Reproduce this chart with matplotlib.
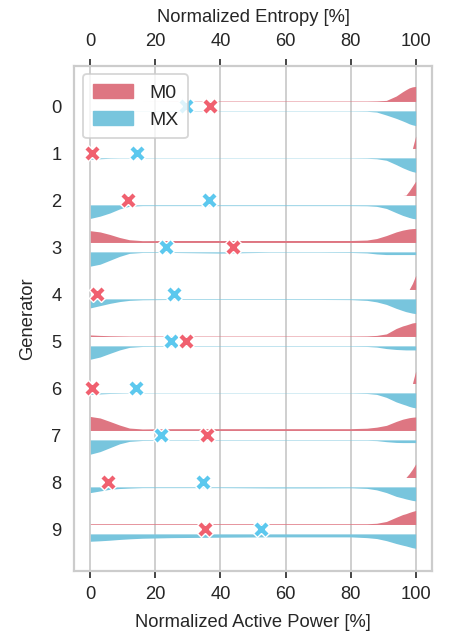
import numpy as np
import matplotlib.pyplot as plt
from matplotlib.patches import Patch

# ---- data ----
generators = list(range(10))
# x positions (normalized active power, %) where the half-violin widths were read
power_grid = [0, 3, 6, 9, 12, 16, 25, 40, 55, 70, 80, 85, 88, 91, 94, 96, 97, 98, 99, 100]

# relative density (1 = widest) for M0 (upper half) per generator
m0_density = [
    [0, 0, 0, 0, 0, 0, 0.01, 0.03, 0.03, 0.03, 0.03, 0.03, 0.04, 0.07, 0.36, 0.65, 0.78, 0.9, 0.97, 1.0],
    [0, 0, 0, 0, 0, 0, 0, 0, 0, 0, 0, 0, 0, 0, 0, 0, 0, 0, 0, 0.82],
    [0, 0, 0, 0, 0, 0, 0, 0, 0, 0, 0, 0, 0, 0, 0, 0, 0.02, 0.3, 0.62, 0.95],
    [0.78, 0.7, 0.53, 0.33, 0.18, 0.12, 0.13, 0.13, 0.13, 0.13, 0.13, 0.16, 0.26, 0.46, 0.7, 0.82, 0.86, 0.9, 0.92, 0.93],
    [0, 0, 0, 0, 0, 0, 0, 0, 0, 0, 0, 0, 0, 0, 0, 0, 0, 0, 0.4, 0.93],
    [0.1, 0.07, 0.05, 0.04, 0.03, 0.03, 0.03, 0.03, 0.03, 0.03, 0.03, 0.04, 0.07, 0.17, 0.53, 0.7, 0.76, 0.83, 0.9, 0.93],
    [0, 0, 0, 0, 0, 0, 0, 0, 0, 0, 0, 0, 0, 0, 0, 0, 0, 0, 0, 0.82],
    [0.93, 0.83, 0.6, 0.36, 0.16, 0.1, 0.12, 0.12, 0.12, 0.12, 0.12, 0.15, 0.22, 0.34, 0.6, 0.75, 0.8, 0.85, 0.88, 0.9],
    [0, 0, 0, 0, 0, 0, 0, 0, 0, 0, 0, 0, 0, 0, 0, 0, 0, 0.25, 0.55, 0.9],
    [0.05, 0.05, 0.05, 0.05, 0.05, 0.05, 0.05, 0.05, 0.05, 0.05, 0.05, 0.05, 0.08, 0.2, 0.48, 0.66, 0.72, 0.8, 0.87, 0.93],
]
# relative density for MX (lower half) per generator
mx_density = [
    [0.02, 0.02, 0.02, 0.02, 0.02, 0.02, 0.02, 0.02, 0.02, 0.02, 0.02, 0.03, 0.08, 0.28, 0.5, 0.67, 0.76, 0.86, 0.93, 0.98],
    [0.1, 0.06, 0.03, 0.02, 0.02, 0.02, 0.02, 0.02, 0.02, 0.02, 0.02, 0.03, 0.06, 0.16, 0.45, 0.66, 0.75, 0.84, 0.91, 0.96],
    [0.9, 0.75, 0.54, 0.27, 0.09, 0.05, 0.05, 0.05, 0.05, 0.05, 0.05, 0.06, 0.1, 0.24, 0.52, 0.7, 0.77, 0.84, 0.9, 0.93],
    [0.95, 0.82, 0.56, 0.3, 0.1, 0.04, 0.04, 0.08, 0.03, 0.03, 0.04, 0.07, 0.14, 0.18, 0.18, 0.18, 0.18, 0.18, 0.18, 0.18],
    [0.6, 0.45, 0.3, 0.18, 0.1, 0.06, 0.04, 0.04, 0.04, 0.04, 0.05, 0.1, 0.2, 0.37, 0.63, 0.78, 0.85, 0.9, 0.95, 0.98],
    [0.89, 0.74, 0.5, 0.27, 0.1, 0.04, 0.03, 0.03, 0.03, 0.03, 0.03, 0.04, 0.08, 0.18, 0.24, 0.26, 0.27, 0.27, 0.27, 0.27],
    [0.1, 0.07, 0.04, 0.03, 0.02, 0.02, 0.02, 0.02, 0.02, 0.02, 0.02, 0.04, 0.1, 0.3, 0.6, 0.75, 0.82, 0.9, 0.96, 1.0],
    [0.95, 0.78, 0.52, 0.26, 0.1, 0.04, 0.03, 0.03, 0.03, 0.03, 0.03, 0.03, 0.05, 0.12, 0.17, 0.18, 0.18, 0.18, 0.18, 0.18],
    [0.38, 0.27, 0.16, 0.11, 0.08, 0.05, 0.05, 0.05, 0.07, 0.07, 0.06, 0.1, 0.2, 0.38, 0.63, 0.74, 0.8, 0.85, 0.9, 0.93],
    [0.49, 0.46, 0.42, 0.37, 0.33, 0.29, 0.25, 0.22, 0.2, 0.2, 0.2, 0.25, 0.31, 0.45, 0.64, 0.75, 0.8, 0.86, 0.92, 0.96],
]

# normalized entropy per generator (crosses)
m0_entropy = [36.7, 0.6, 11.5, 43.8, 2.1, 29.5, 0.4, 36.0, 5.3, 35.1]
mx_entropy = [29.5, 14.4, 36.4, 23.4, 25.7, 24.7, 14.0, 21.8, 34.6, 52.4]

# ---- style ----
m0_fill = '#de7682'
mx_fill = '#78c5dd'
m0_mark = '#f0606f'
mx_mark = '#5cc8ee'
light = '#cccccc'
dark = '#262626'
half_gap = 0.1
max_half = 0.32

plt.rcParams['font.family'] = ['Liberation Sans', 'DejaVu Sans']
plt.rcParams['font.size'] = 13.2
plt.rcParams['text.color'] = dark
plt.rcParams['axes.labelcolor'] = dark
plt.rcParams['xtick.color'] = dark
plt.rcParams['ytick.color'] = dark

fig = plt.figure(figsize=(4.49, 6.32), dpi=100)
ax = fig.add_subplot(111)
fig.subplots_adjust(left=0.165, right=0.962, top=0.896, bottom=0.0965)

xg = np.array(power_grid, dtype=float)
for g in generators:
    top = g - half_gap
    bot = g + half_gap
    ax.fill_between(xg, top, top - np.array(m0_density[g]) * max_half,
                    color=m0_fill, lw=0, zorder=2)
    ax.fill_between(xg, bot, bot + np.array(mx_density[g]) * max_half,
                    color=mx_fill, lw=0, zorder=2)

ax.set_xlim(-5, 105)
ax.set_ylim(9.89, -0.86)
ax.set_yticks(generators)
ax.set_xticks([0, 20, 40, 60, 80, 100])
ax.grid(axis='x', color=light, lw=1.3, zorder=0)
ax.set_axisbelow(True)
ax.tick_params(axis='y', length=0, pad=9)
ax.tick_params(axis='x', length=5, width=1.2, pad=6)
for s in ax.spines.values():
    s.set_color(light)
    s.set_linewidth(1.5)
ax.set_xlabel('Normalized Active Power [%]', labelpad=8)
ax.set_ylabel('Generator', labelpad=11)

ax2 = ax.twiny()
ax2.set_xlim(ax.get_xlim())
ax2.set_xticks([0, 20, 40, 60, 80, 100])
ax2.tick_params(axis='x', length=5, width=1.2, pad=6)
for s in ax2.spines.values():
    s.set_color(light)
    s.set_linewidth(1.5)
ax2.set_xlabel('Normalized Entropy [%]', labelpad=8)

ax2.plot(mx_entropy, generators, lw=0, marker='X', ms=11, color=mx_mark,
         mec='white', mew=1, zorder=5)
ax2.plot(m0_entropy, generators, lw=0, marker='X', ms=11, color=m0_mark,
         mec='white', mew=1, zorder=5)
ax2.set_ylim(ax.get_ylim())

handles = [Patch(color=m0_fill, label='M0'), Patch(color=mx_fill, label='MX')]
leg = ax2.legend(handles=handles, loc='upper left', frameon=True, fontsize=14,
                 handlelength=2.1, handleheight=0.75, borderpad=0.5,
                 labelspacing=0.45, handletextpad=0.8, borderaxespad=0.45)
leg.get_frame().set_edgecolor(light)
leg.get_frame().set_linewidth(1.3)

fig.savefig('out.png', dpi=100)
